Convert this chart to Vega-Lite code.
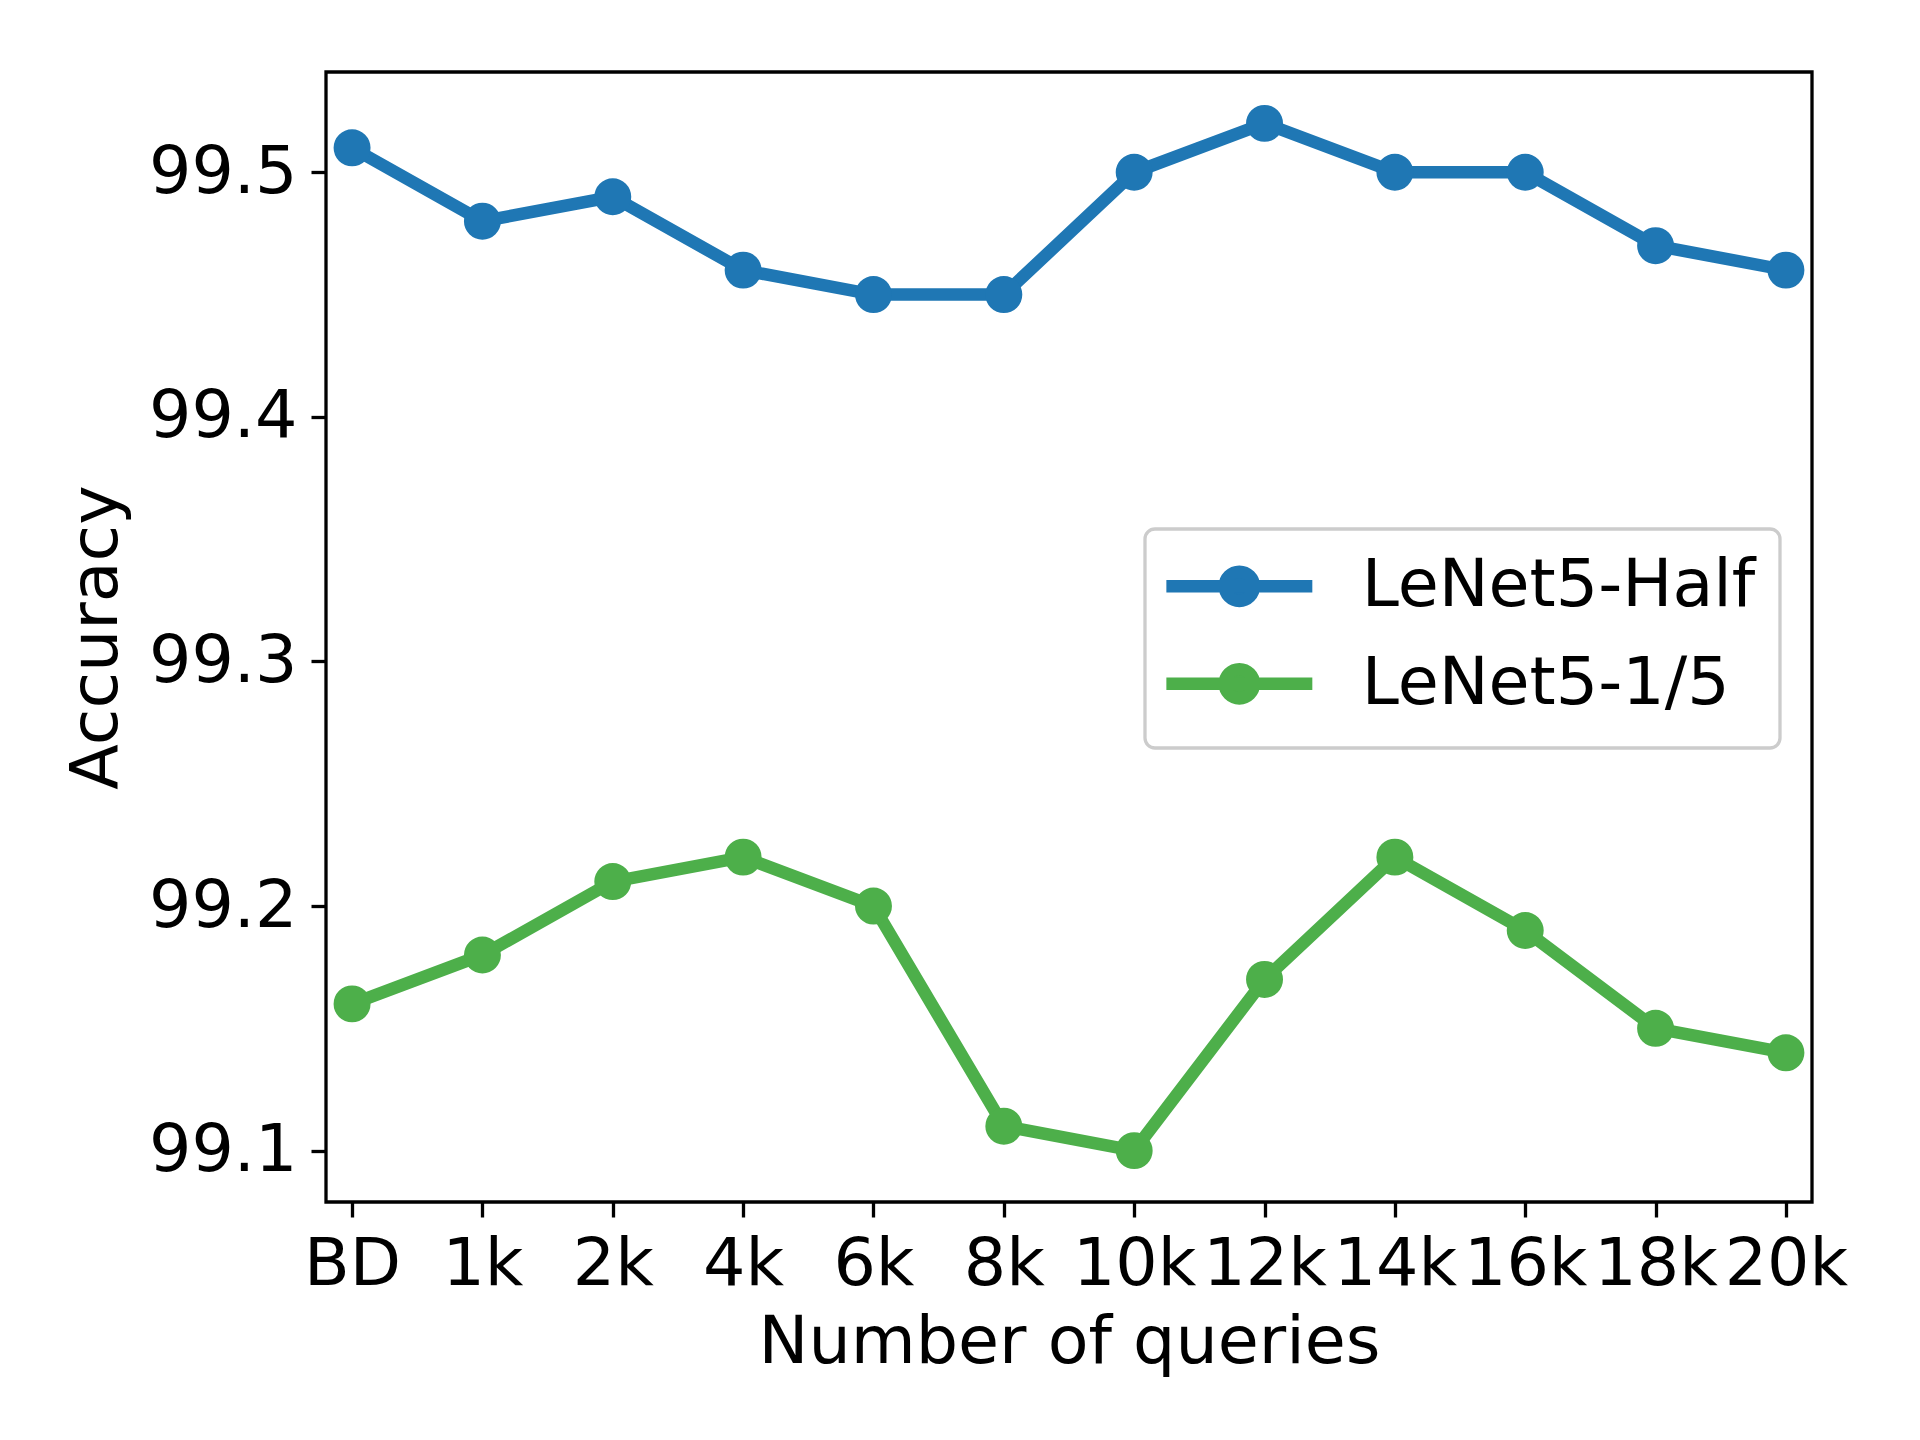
{
  "$schema": "https://vega.github.io/schema/vega-lite/v6.json",
  "width": 1486,
  "height": 1130,
  "autosize": {"type": "none"},
  "padding": {"left": 326, "top": 72, "right": 108, "bottom": 238},
  "background": "white",
  "data": {
    "values": [
      {"q": "BD", "model": "LeNet5-Half", "acc": 99.51},
      {"q": "1k", "model": "LeNet5-Half", "acc": 99.48},
      {"q": "2k", "model": "LeNet5-Half", "acc": 99.49},
      {"q": "4k", "model": "LeNet5-Half", "acc": 99.46},
      {"q": "6k", "model": "LeNet5-Half", "acc": 99.45},
      {"q": "8k", "model": "LeNet5-Half", "acc": 99.45},
      {"q": "10k", "model": "LeNet5-Half", "acc": 99.50},
      {"q": "12k", "model": "LeNet5-Half", "acc": 99.52},
      {"q": "14k", "model": "LeNet5-Half", "acc": 99.50},
      {"q": "16k", "model": "LeNet5-Half", "acc": 99.50},
      {"q": "18k", "model": "LeNet5-Half", "acc": 99.47},
      {"q": "20k", "model": "LeNet5-Half", "acc": 99.46},
      {"q": "BD", "model": "LeNet5-1/5", "acc": 99.16},
      {"q": "1k", "model": "LeNet5-1/5", "acc": 99.18},
      {"q": "2k", "model": "LeNet5-1/5", "acc": 99.21},
      {"q": "4k", "model": "LeNet5-1/5", "acc": 99.22},
      {"q": "6k", "model": "LeNet5-1/5", "acc": 99.20},
      {"q": "8k", "model": "LeNet5-1/5", "acc": 99.11},
      {"q": "10k", "model": "LeNet5-1/5", "acc": 99.10},
      {"q": "12k", "model": "LeNet5-1/5", "acc": 99.17},
      {"q": "14k", "model": "LeNet5-1/5", "acc": 99.22},
      {"q": "16k", "model": "LeNet5-1/5", "acc": 99.19},
      {"q": "18k", "model": "LeNet5-1/5", "acc": 99.15},
      {"q": "20k", "model": "LeNet5-1/5", "acc": 99.14}
    ]
  },
  "encoding": {
    "x": {
      "field": "q",
      "type": "ordinal",
      "sort": ["BD", "1k", "2k", "4k", "6k", "8k", "10k", "12k", "14k", "16k", "18k", "20k"],
      "scale": {"type": "point", "padding": 0.2},
      "axis": {"title": "Number of queries", "labelAngle": 0, "labelPadding": 14, "titlePadding": 12}
    },
    "y": {
      "field": "acc",
      "type": "quantitative",
      "scale": {"domain": [99.079, 99.541], "nice": false, "zero": false},
      "axis": {"title": "Accuracy", "values": [99.1, 99.2, 99.3, 99.4, 99.5], "format": ".1f", "labelPadding": 14, "titlePadding": 18}
    },
    "color": {
      "field": "model",
      "type": "nominal",
      "scale": {"domain": ["LeNet5-Half", "LeNet5-1/5"], "range": ["#1f77b4", "#4daf4a"]},
      "legend": {
        "title": null,
        "orient": "none",
        "legendX": 819,
        "legendY": 457,
        "symbolType": "M-3.5,0H3.5M0.7,0A0.7,0.7,0,1,1,-0.7,0A0.7,0.7,0,1,1,0.7,0Z",
        "symbolSize": 1739,
        "symbolStrokeWidth": 12.5,
        "symbolOffset": 37,
        "labelOffset": 89,
        "encode": {
          "symbols": {
            "update": {
              "fill": {"scale": "color", "field": "value"},
              "stroke": {"scale": "color", "field": "value"},
              "opacity": {"value": 1}
            }
          }
        }
      }
    }
  },
  "layer": [
    {"mark": {"type": "line", "strokeWidth": 12.5}},
    {"mark": {"type": "point", "filled": true, "size": 1366, "opacity": 1}}
  ],
  "config": {
    "font": "DejaVu Sans",
    "view": {"stroke": "black", "strokeWidth": 3.3},
    "axis": {
      "grid": false,
      "domain": false,
      "ticks": true,
      "tickSize": 15,
      "tickWidth": 3.3,
      "tickColor": "black",
      "labelFont": "DejaVu Sans",
      "labelFontSize": 66.7,
      "labelColor": "black",
      "labelOverlap": false,
      "labelBound": false,
      "titleFont": "DejaVu Sans",
      "titleFontSize": 66.7,
      "titleFontWeight": "normal",
      "titleColor": "black"
    },
    "legend": {
      "labelFont": "DejaVu Sans",
      "labelFontSize": 66.7,
      "labelColor": "black",
      "labelLimit": 1000,
      "padding": 24,
      "rowPadding": 17.5,
      "strokeColor": "#cccccc",
      "strokeWidth": 3.3,
      "fillColor": "white",
      "cornerRadius": 10
    }
  }
}
